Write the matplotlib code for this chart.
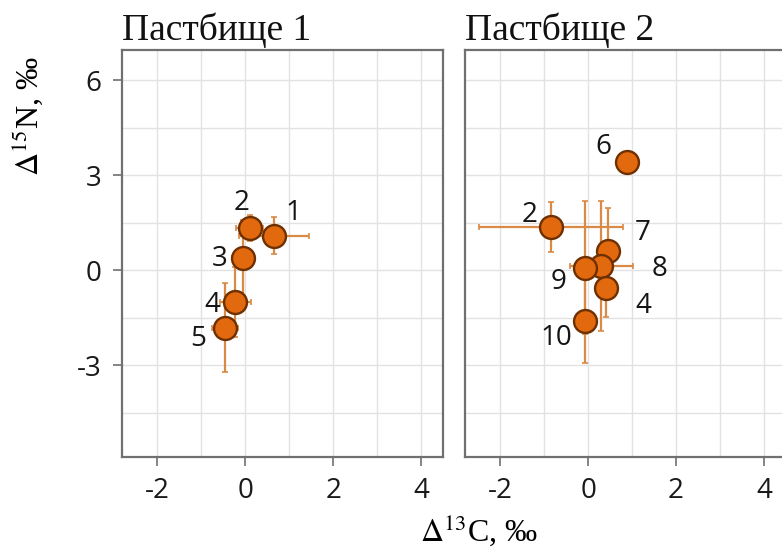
import matplotlib
matplotlib.use("Agg")
import matplotlib.pyplot as plt
from matplotlib.ticker import MultipleLocator

plt.rcParams["mathtext.fontset"] = "stix"
plt.rcParams["axes.unicode_minus"] = False

# Пастбище 1
p1_labels = ["1", "2", "3", "4", "5"]
p1_x = [0.65, 0.10, -0.05, -0.22, -0.46]
p1_y = [1.09, 1.33, 0.39, -1.00, -1.82]
p1_xerr = [0.80, 0.30, 0.25, 0.35, 0.30]
p1_yerr = [0.58, 0.40, 1.20, 1.10, 1.40]
p1_off = [(14, 16), (-6, 18), (-17, -1), (-17, -2), (-19, -8)]

# Пастбище 2
p2_labels = ["6", "2", "7", "8", "9", "4", "10"]
p2_x = [0.89, -0.85, 0.46, 0.30, -0.08, 0.40, -0.06]
p2_y = [3.40, 1.36, 0.60, 0.13, 0.07, -0.57, -1.60]
p2_xerr = [0.0, 1.64, 0.10, 0.71, 0.20, 0.10, 0.10]
p2_yerr = [0.0, 0.80, 1.37, 2.05, 2.10, 0.90, 1.32]
p2_off = [(-17, 11), (-15, 9), (25, 13), (42, -2), (-19, -10), (27, -13), (-21, -12)]

titles = ["Пастбище 1", "Пастбище 2"]
xticks = [-2, 0, 2, 4]
yticks = [-3, 0, 3, 6]

fig = plt.figure(figsize=(7.82, 5.48), dpi=100)
ax1 = fig.add_axes([0.156, 0.166, 0.4105, 0.7427])
ax2 = fig.add_axes([0.5946, 0.166, 0.4105, 0.7427])

panels = [(ax1, p1_labels, p1_x, p1_y, p1_xerr, p1_yerr, p1_off),
          (ax2, p2_labels, p2_x, p2_y, p2_xerr, p2_yerr, p2_off)]

for i, (ax, labs, xs, ys, xe, ye, offs) in enumerate(panels):
    ax.errorbar(xs, ys, xerr=xe, yerr=ye, fmt="none", ecolor="#d98a45",
                elinewidth=1.6, capsize=2.5, capthick=1.2, zorder=2)
    ax.plot(xs, ys, "o", ms=16.5, mfc="#e3690f", mec="#6e3000", mew=1.7, zorder=3)
    for lab, x, y, off in zip(labs, xs, ys, offs):
        ax.annotate(lab, (x, y), xytext=off, textcoords="offset points",
                    ha="center", va="center", fontsize=20, family="Open Sans",
                    color="#151515", zorder=4)
    ax.set_xlim(-2.8, 4.5)
    ax.set_ylim(-5.9, 6.95)
    ax.set_xticks(xticks)
    ax.set_yticks(yticks)
    ax.xaxis.set_minor_locator(MultipleLocator(1))
    ax.yaxis.set_minor_locator(MultipleLocator(1.5))
    ax.grid(True, which="both", color="#e2e2e2", lw=1.0)
    ax.set_axisbelow(True)
    for sp in ax.spines.values():
        sp.set_color("#707070")
        sp.set_linewidth(1.6)
    ax.tick_params(which="major", length=6.5, width=1.2, color="#707070",
                   labelsize=20, labelcolor="#1a1a1a", pad=8)
    ax.tick_params(which="minor", length=0)
    for t in ax.get_xticklabels() + ax.get_yticklabels():
        t.set_family("Open Sans")
    ax.set_title(titles[i], loc="left", family="Liberation Serif",
                 fontsize=27, pad=7, color="#111111")
    if i == 1:
        ax.tick_params(axis="y", left=False, labelleft=False)

fig.text(0.035, 0.788, r"$\mathrm{\Delta}^{15}$N, ‰", rotation=90,
         ha="center", va="center", family="Liberation Serif", fontsize=23)
fig.text(0.612, 0.032, r"$\mathrm{\Delta}^{13}$C, ‰",
         ha="center", va="center", family="Liberation Serif", fontsize=23)

fig.savefig("out.png", dpi=100)
